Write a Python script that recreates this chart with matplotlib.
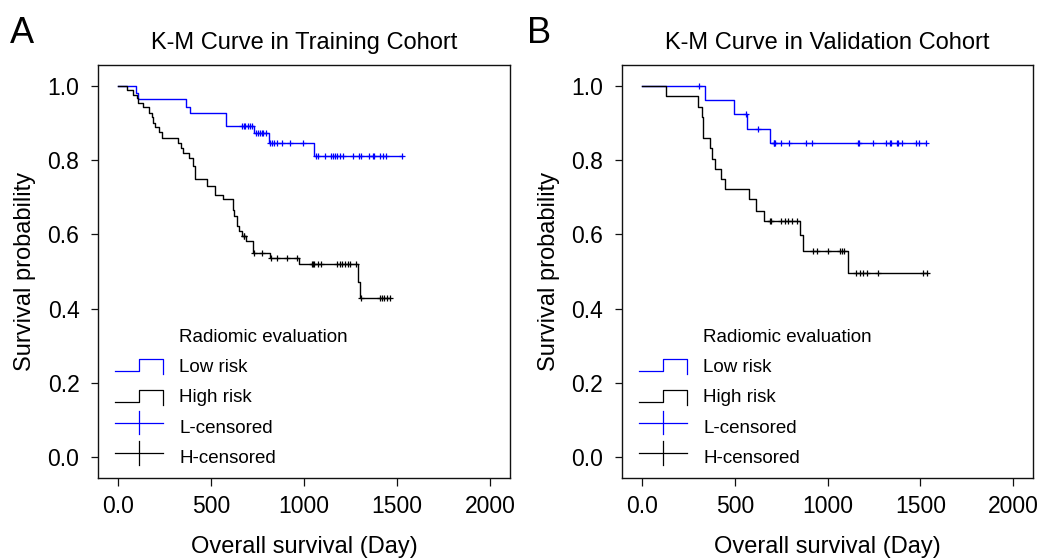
import numpy as np
import matplotlib
matplotlib.use('Agg')
import matplotlib.pyplot as plt
from matplotlib.lines import Line2D
from matplotlib.legend_handler import HandlerBase

plt.rcParams['font.family'] = ['Liberation Sans', 'DejaVu Sans']

# training cohort, low risk: event times (day), survival after each event, censor times
train_low_time = [97, 106, 365, 386, 580, 728, 809, 1055]
train_low_surv = [0.980, 0.964, 0.944, 0.927, 0.892, 0.872, 0.847, 0.812]
train_low_cens = [665, 674, 683, 696, 710, 719, 742, 749, 765, 773, 780, 796, 818, 827,
                  836, 854, 881, 926, 992, 1066, 1073, 1114, 1145, 1156, 1168, 1177,
                  1195, 1210, 1262, 1294, 1307, 1348, 1369, 1375, 1407, 1425, 1440, 1525]

# training cohort, high risk
train_high_time = [48, 77, 99, 108, 135, 167, 180, 189, 198, 221, 237, 323, 336, 350,
                   381, 404, 413, 480, 518, 566, 617, 625, 638, 650, 668, 685, 724,
                   818, 970, 1289, 1300]
train_high_surv = [0.988, 0.975, 0.966, 0.954, 0.944, 0.927, 0.915, 0.901, 0.890, 0.876,
                   0.859, 0.845, 0.832, 0.818, 0.805, 0.784, 0.749, 0.730, 0.706, 0.695,
                   0.666, 0.650, 0.623, 0.608, 0.596, 0.581, 0.551, 0.536, 0.520, 0.473,
                   0.430]
train_high_cens = [674, 678, 728, 772, 822, 856, 910, 960, 1042, 1048, 1055, 1073, 1091,
                   1177, 1191, 1206, 1221, 1235, 1249, 1281, 1306, 1407, 1420, 1432,
                   1447, 1462]

# validation cohort, low risk
val_low_time = [336, 494, 566, 688]
val_low_surv = [0.962, 0.923, 0.885, 0.845]
val_low_cens = [304, 562, 626, 710, 712, 715, 748, 790, 882, 918, 1161, 1167, 1242,
                1312, 1335, 1339, 1375, 1380, 1398, 1474, 1492, 1528]

# validation cohort, high risk
val_high_time = [131, 299, 320, 326, 365, 374, 392, 424, 446, 577, 613, 656, 852, 868, 1111]
val_high_surv = [0.973, 0.944, 0.915, 0.859, 0.832, 0.802, 0.776, 0.749, 0.721, 0.695,
                 0.664, 0.635, 0.599, 0.556, 0.496]
val_high_cens = [688, 695, 751, 769, 787, 805, 832, 922, 940, 1003, 1066, 1078, 1087,
                 1152, 1173, 1191, 1213, 1269, 1512, 1538]

titles = ['K-M Curve in Training Cohort', 'K-M Curve in Validation Cohort']
panel_tags = ['A', 'B']
legend_labels = ['Radiomic evaluation', 'Low risk', 'High risk', 'L-censored', 'H-censored']
x_ticks = [0, 500, 1000, 1500, 2000]
x_ticklabels = ['0.0', '500', '1000', '1500', '2000']
y_ticks = [0.0, 0.2, 0.4, 0.6, 0.8, 1.0]

LOW_COL = '#0000ff'
HIGH_COL = '#000000'


def surv_at(t, times, surv):
    idx = np.searchsorted(times, t, side='right')
    s = np.asarray(surv)
    return np.where(idx == 0, 1.0, s[np.maximum(idx - 1, 0)])


def draw_km(ax, times, surv, cens, color):
    end = max(max(times), max(cens))
    x = np.concatenate([[0], times, [end]])
    y = np.concatenate([[1.0], surv, [surv[-1]]])
    ax.step(x, y, where='post', color=color, lw=1.0)
    ax.plot(cens, surv_at(cens, times, surv), ls='none', marker='+',
            ms=4.5, mew=0.9, color=color)


class KMHandler(HandlerBase):
    def __init__(self, kind, color):
        super().__init__()
        self.kind = kind
        self.color = color

    def create_artists(self, legend, orig_handle, xdescent, ydescent, width, height,
                       fontsize, trans):
        x0, y0 = -xdescent, -ydescent
        if self.kind == 'none':
            return [Line2D([x0], [y0], color='none', transform=trans)]
        if self.kind == 'step':
            xs = [x0, x0 + 0.5 * width, x0 + 0.5 * width, x0 + width, x0 + width]
            ys = [y0, y0, y0 + height, y0 + height, y0 - 0.25 * height]
            return [Line2D(xs, ys, color=self.color, lw=0.9, transform=trans)]
        yc = y0 + 0.75 * height
        hline = Line2D([x0, x0 + width], [yc, yc], color=self.color, lw=0.9, transform=trans)
        xm = x0 + 0.5 * width
        vline = Line2D([xm, xm], [y0 - 0.2 * height, y0 + 1.75 * height], color=self.color,
                       lw=0.9, transform=trans)
        return [hline, vline]


fig = plt.figure(figsize=(10.38, 5.6), dpi=100)
ax_pos = [[0.0944, 0.1464, 0.3969, 0.7375], [0.5992, 0.1464, 0.396, 0.7375]]
cohorts = [
    (train_low_time, train_low_surv, train_low_cens,
     train_high_time, train_high_surv, train_high_cens),
    (val_low_time, val_low_surv, val_low_cens,
     val_high_time, val_high_surv, val_high_cens),
]
tag_x = [10 / 1038, 527 / 1038]

for i, ax_rect in enumerate(ax_pos):
    ax = fig.add_axes(ax_rect)
    lt, ls_, lc, ht, hs, hc = cohorts[i]
    draw_km(ax, lt, ls_, lc, LOW_COL)
    draw_km(ax, ht, hs, hc, HIGH_COL)

    ax.set_xlim(-109, 2107)
    ax.set_ylim(-0.056, 1.056)
    ax.set_xticks(x_ticks)
    ax.set_xticklabels(x_ticklabels)
    ax.set_yticks(y_ticks)
    ax.set_yticklabels(['%.1f' % v for v in y_ticks])
    ax.tick_params(axis='both', direction='out', length=5.4, width=0.9,
                   labelsize=16.5, color='#111111')
    ax.tick_params(axis='y', pad=8)
    ax.tick_params(axis='x', pad=7)
    for sp in ax.spines.values():
        sp.set_linewidth(1.0)
        sp.set_color('#111111')
    ax.set_title(titles[i], fontsize=17, pad=11.5)
    ax.set_xlabel('Overall survival (Day)', fontsize=17, labelpad=13)
    ax.set_ylabel('Survival probability', fontsize=17, labelpad=8)

    handles = [Line2D([], []) for _ in legend_labels]
    kinds = [('none', 'none'), ('step', LOW_COL), ('step', HIGH_COL),
             ('cens', LOW_COL), ('cens', HIGH_COL)]
    hmap = {h: KMHandler(k, c) for h, (k, c) in zip(handles, kinds)}
    ax.legend(handles, legend_labels, handler_map=hmap, loc='lower left',
              bbox_to_anchor=(0.0413, 0.027), borderaxespad=0, borderpad=0,
              frameon=False, fontsize=13.5, handlelength=2.58, handleheight=0.61,
              handletextpad=0.85, labelspacing=0.71)

    fig.text(tag_x[i], 1 - 43 / 560, panel_tags[i], fontsize=26, va='baseline')

fig.savefig('out.png', dpi=100)
